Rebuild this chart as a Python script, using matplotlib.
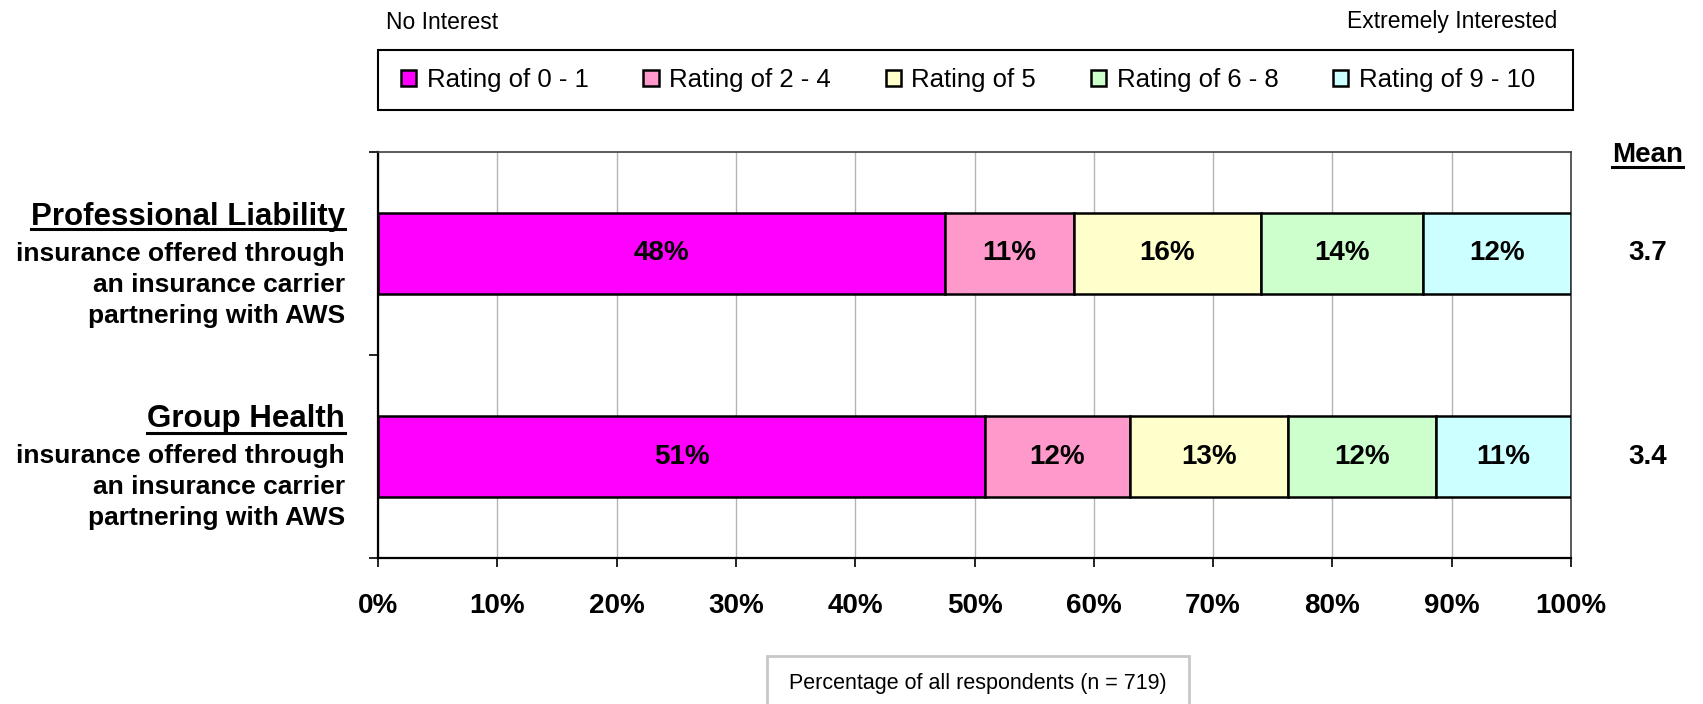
"""
Stacked bar chart of interest ratings for two insurance offers.
"""

import numpy as np
import matplotlib.pyplot as plt
from matplotlib.patches import Rectangle
from matplotlib.lines import Line2D
from matplotlib import font_manager

plt.rcParams['font.family'] = ['Liberation Sans', 'DejaVu Sans']

# Data
categories = ['Professional Liability', 'Group Health']
subtitles = [['insurance offered through', 'an insurance carrier', 'partnering with AWS'],
             ['insurance offered through', 'an insurance carrier', 'partnering with AWS']]
ratings = ['Rating of 0 - 1', 'Rating of 2 - 4', 'Rating of 5', 'Rating of 6 - 8', 'Rating of 9 - 10']
colors = ['#FF00FF', '#FF99CC', '#FFFFCC', '#CCFFCC', '#CCFFFF']
prof_liability = [47.5, 10.8, 15.7, 13.6, 12.4]
group_health = [50.9, 12.1, 13.3, 12.4, 11.3]
means = [3.7, 3.4]
xticks = [0, 10, 20, 30, 40, 50, 60, 70, 80, 90, 100]

W, H = 1703, 704
fig = plt.figure(figsize=(W/100, H/100), dpi=100)
ax = fig.add_axes([378/W, 1-558/H, (1571-378)/W, (558-152)/H])

data = np.array([prof_liability, group_health])
y = np.arange(len(categories))
left = np.zeros(len(categories))
for i in range(len(ratings)):
    bars = ax.barh(y, data[:, i], left=left, height=0.4, color=colors[i],
                   edgecolor='black', linewidth=1.8, label=ratings[i], zorder=3)
    for j in range(len(categories)):
        ax.text(left[j] + data[j, i]/2, y[j], '%.0f%%' % data[j, i],
                ha='center', va='center', fontsize=20, fontweight='bold', zorder=4)
    left += data[:, i]

ax.set_xlim(0, 100)
ax.set_ylim(1.5, -0.5)
ax.set_xticks(xticks)
ax.set_xticklabels(['%d%%' % v for v in xticks], fontweight='bold')
ax.set_yticks([-0.5, 0.5, 1.5])
ax.set_yticklabels([])
ax.tick_params(axis='x', length=6.5, width=1.2, pad=19, labelsize=20)
ax.tick_params(axis='y', length=6.5, width=1.2)
ax.grid(axis='x', color='#b4b4b4', linewidth=1)
ax.set_axisbelow(True)
for s in ['left', 'bottom']:
    ax.spines[s].set_color('black')
    ax.spines[s].set_linewidth(1.6)
for s in ['top', 'right']:
    ax.spines[s].set_color('#404040')
    ax.spines[s].set_linewidth(1.2)

# Category labels on the left and means on the right
titles = []
for j in range(len(categories)):
    t = ax.annotate(categories[j], xy=(0, y[j]), xycoords=('axes fraction', 'data'),
                    xytext=(-33, 29), textcoords='offset pixels', ha='right',
                    va='baseline', fontsize=22.5, fontweight='bold')
    titles.append(t)
    for k, line in enumerate(subtitles[j]):
        ax.annotate(line, xy=(0, y[j]), xycoords=('axes fraction', 'data'),
                    xytext=(-33, -7 - 31*k), textcoords='offset pixels', ha='right',
                    va='baseline', fontsize=19, fontweight='bold')
    ax.annotate('%.1f' % means[j], xy=(1, y[j]), xycoords=('axes fraction', 'data'),
                xytext=(77, 0), textcoords='offset pixels', ha='center',
                va='center', fontsize=20, fontweight='bold')

mean_head = ax.annotate('Mean', xy=(1, 1), xycoords='axes fraction', xytext=(77, -10),
                        textcoords='offset pixels', ha='center', va='baseline',
                        fontsize=20, fontweight='bold')

fig.text(386/W, 1-29/H, 'No Interest', fontsize=16.5, va='baseline')
fig.text(1557/W, 1-28/H, 'Extremely Interested', fontsize=16.5, va='baseline', ha='right')

# Legend with its own frame
fig.legend(ncol=5, loc='center', bbox_to_anchor=(401/W, 1-80/H, 1134/W, 0),
           mode='expand', frameon=False, fontsize=18.5, handlelength=0.6,
           handleheight=0.6, handletextpad=0.4, borderpad=0, borderaxespad=0)
fig.add_artist(Rectangle((378/W, 1-110/H), 1195/W, 60/H, transform=fig.transFigure,
                         fill=False, edgecolor='black', linewidth=1.5))

# Footnote box
names = set(f.name for f in font_manager.fontManager.ttflist)
if 'Liberation Sans Narrow' in names:
    fam, fsize = ['Liberation Sans Narrow'], 19
else:
    fam, fsize = ['Liberation Sans'], 15.5
fig.add_artist(Rectangle((767/W, -0.05), (1189-767)/W, (704-656)/H + 0.05,
                         transform=fig.transFigure, fill=False,
                         edgecolor='#c8c8c8', linewidth=2))
fig.text(978/W, 1-683/H, 'Percentage of all respondents (n = 719)', family=fam,
         fontsize=fsize, ha='center', va='center')

# Underlines
fig.canvas.draw()
renderer = fig.canvas.get_renderer()
inv = fig.transFigure.inverted()
for j, t in enumerate(titles):
    bb = t.get_window_extent(renderer)
    base = ax.transData.transform((0, y[j]))[1] + 29
    p0 = inv.transform((bb.x0, base - 5))
    p1 = inv.transform((bb.x1, base - 5))
    fig.add_artist(Line2D([p0[0], p1[0]], [p0[1], p1[1]], color='black', linewidth=2.2))
bb = mean_head.get_window_extent(renderer)
base = ax.transAxes.transform((1, 1))[1] - 10
p0 = inv.transform((bb.x0, base - 5))
p1 = inv.transform((bb.x1, base - 5))
fig.add_artist(Line2D([p0[0], p1[0]], [p0[1], p1[1]], color='black', linewidth=2.2))

fig.savefig('out.png', dpi=100)
